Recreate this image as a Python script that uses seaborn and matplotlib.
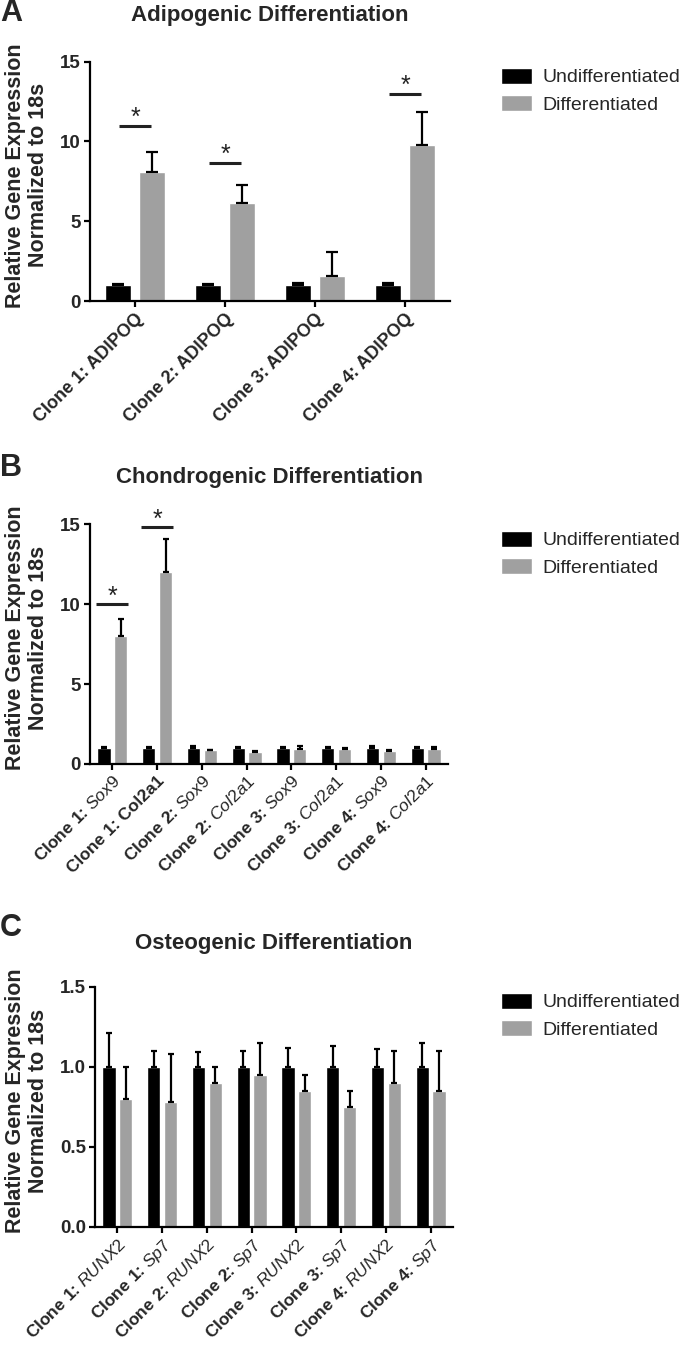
import matplotlib
matplotlib.use("Agg")
import matplotlib.pyplot as plt
import seaborn as sns
import pandas as pd
import numpy as np

# ---------------- data ----------------
a_categories = ["C1 ADIPOQ", "C2 ADIPOQ", "C3 ADIPOQ", "C4 ADIPOQ"]
a_ticklabels = ["Clone 1: ADIPOQ", "Clone 2: ADIPOQ", "Clone 3: ADIPOQ", "Clone 4: ADIPOQ"]
a_undiff = [1.0, 1.0, 1.0, 1.0]
a_undiff_err = [0.08, 0.07, 0.15, 0.10]
a_diff = [8.1, 6.15, 1.55, 9.75]
a_diff_err = [1.25, 1.1, 1.5, 2.1]
a_sig_idx = [0, 1, 3]
a_sig_y = [11.0, 8.65, 13.0]

b_categories = ["C1 Sox9", "C1 Col2a1", "C2 Sox9", "C2 Col2a1",
                "C3 Sox9", "C3 Col2a1", "C4 Sox9", "C4 Col2a1"]
b_ticklabels = ["Clone 1: $\\mathit{Sox9}$", "Clone 1: Col2a1",
                "Clone 2: $\\mathit{Sox9}$", "Clone 2: $\\mathit{Col2a1}$",
                "Clone 3: $\\mathit{Sox9}$", "Clone 3: $\\mathit{Col2a1}$",
                "Clone 4: $\\mathit{Sox9}$", "Clone 4: $\\mathit{Col2a1}$"]
b_undiff = [1.0, 1.0, 1.0, 1.0, 1.0, 1.0, 1.0, 1.0]
b_undiff_err = [0.05, 0.08, 0.15, 0.05, 0.07, 0.08, 0.10, 0.07]
b_diff = [8.0, 12.0, 0.85, 0.75, 0.95, 0.95, 0.80, 0.95]
b_diff_err = [1.05, 2.1, 0.05, 0.05, 0.15, 0.08, 0.05, 0.12]
b_sig_idx = [0, 1]
b_sig_y = [10.0, 14.8]

c_categories = ["C1 RUNX2", "C1 Sp7", "C2 RUNX2", "C2 Sp7",
                "C3 RUNX2", "C3 Sp7", "C4 RUNX2", "C4 Sp7"]
c_ticklabels = ["Clone 1: $\\mathit{RUNX2}$", "Clone 1: $\\mathit{Sp7}$",
                "Clone 2: $\\mathit{RUNX2}$", "Clone 2: $\\mathit{Sp7}$",
                "Clone 3: $\\mathit{RUNX2}$", "Clone 3: $\\mathit{Sp7}$",
                "Clone 4: $\\mathit{RUNX2}$", "Clone 4: $\\mathit{Sp7}$"]
c_undiff = [1.0, 1.0, 1.0, 1.0, 1.0, 1.0, 1.0, 1.0]
c_undiff_err = [0.21, 0.10, 0.09, 0.10, 0.12, 0.13, 0.11, 0.15]
c_diff = [0.80, 0.78, 0.90, 0.95, 0.85, 0.75, 0.90, 0.85]
c_diff_err = [0.20, 0.30, 0.10, 0.20, 0.10, 0.10, 0.20, 0.25]

conditions = ["Undifferentiated", "Differentiated"]
palette = {"Undifferentiated": "#000000", "Differentiated": "#a0a0a0"}

# ---------------- style ----------------
sns.set_theme(style="ticks")
plt.rcParams["font.family"] = ["Liberation Sans", "DejaVu Sans"]
plt.rcParams["mathtext.fontset"] = "custom"
plt.rcParams["mathtext.it"] = "Liberation Sans:italic"
plt.rcParams["mathtext.rm"] = "Liberation Sans"
plt.rcParams["mathtext.bf"] = "Liberation Sans:bold"

W, H = 685, 1345
fig = plt.figure(figsize=(W / 100, H / 100), dpi=100)


def fx(px):
    return px / W


def fy(py):
    return 1 - py / H


def panel(rect_px, cats, ticklabels, undiff, undiff_err, diff, diff_err,
          ylim, yticks, yfmt, title, title_y, letter, letter_y, leg_y,
          capsize, sig_idx=None, sig_y=None, sig_half=0.18, tick_fs=12):
    left, top, right, bottom = rect_px
    ax = fig.add_axes([fx(left), fy(bottom), fx(right - left), (bottom - top) / H])
    n = len(cats)
    df = pd.DataFrame({
        "cat": cats * 2,
        "cond": [conditions[0]] * n + [conditions[1]] * n,
        "val": undiff + diff,
    })
    sns.barplot(data=df, x="cat", y="val", hue="cond", order=cats,
                hue_order=conditions, palette=palette, width=0.75, gap=0.22,
                errorbar=None, ax=ax, saturation=1, legend=True)
    for cont, errs in zip(ax.containers, [undiff_err, diff_err]):
        xs = [b.get_x() + b.get_width() / 2 for b in cont]
        hs = [b.get_height() for b in cont]
        ax.errorbar(xs, hs, yerr=[np.zeros(len(errs)), errs], fmt="none",
                    ecolor="black", elinewidth=1.6, capsize=capsize,
                    capthick=1.6, zorder=1)
    ax.set_ylim(*ylim)
    ax.set_xlim(-0.5, n - 0.5)
    ax.set_yticks(yticks)
    ax.set_yticklabels([yfmt.format(t) for t in yticks], fontsize=13.5,
                       fontweight="bold")
    ax.set_xticks(range(n))
    ax.set_xticklabels(ticklabels, rotation=45, ha="right",
                       rotation_mode="anchor", fontsize=tick_fs,
                       fontweight="bold")
    ax.set_xlabel("")
    ax.set_ylabel("")
    for s in ["top", "right"]:
        ax.spines[s].set_visible(False)
    for s in ["left", "bottom"]:
        ax.spines[s].set_linewidth(1.6)
        ax.spines[s].set_color("black")
    ax.tick_params(axis="both", direction="out", length=4.5, width=1.6,
                   color="black", pad=2)
    # significance
    if sig_idx:
        for i, yv in zip(sig_idx, sig_y):
            ax.plot([i - sig_half, i + sig_half], [yv, yv], color="#222222",
                    lw=2.2, solid_capstyle="butt")
            ax.annotate("*", xy=(i, yv), xytext=(0, -3),
                        textcoords="offset points", ha="center", va="bottom",
                        fontsize=18, color="#222222")
    # legend
    handles, labels = ax.get_legend_handles_labels()
    ax.get_legend().remove()
    fig.legend(handles, labels, loc="upper left",
               bbox_to_anchor=(fx(501), fy(leg_y)), frameon=False,
               fontsize=14, handlelength=1.6, handleheight=0.85,
               handletextpad=0.55, labelspacing=0.45, borderpad=0,
               borderaxespad=0)
    # title, letter, y label
    fig.text(fx((left + right) / 2), fy(title_y), title, ha="center",
             va="center", fontsize=16, fontweight="bold")
    fig.text(fx(0), fy(letter_y), letter, ha="left", va="center",
             fontsize=22, fontweight="bold")
    fig.text(fx(27), fy((top + bottom) / 2 - 6),
             "Relative Gene Expression\nNormalized to 18s", rotation=90,
             ha="center", va="center", multialignment="center",
             fontsize=15.5, fontweight="bold", linespacing=1.15)
    return ax


panel((90, 61.7, 450, 301), a_categories, a_ticklabels, a_undiff,
      a_undiff_err, a_diff, a_diff_err, (0, 15), [0, 5, 10, 15], "{:g}",
      "Adipogenic Differentiation", 16, "A", 13, 68, capsize=4,
      sig_idx=a_sig_idx, sig_y=a_sig_y, sig_half=0.18, tick_fs=13)

panel((90, 524.3, 448, 764), b_categories, b_ticklabels, b_undiff,
      b_undiff_err, b_diff, b_diff_err, (0, 15), [0, 5, 10, 15], "{:g}",
      "Chondrogenic Differentiation", 477, "B", 468, 531, capsize=2.2,
      sig_idx=b_sig_idx, sig_y=b_sig_y, sig_half=0.36, tick_fs=12.5)

panel((95, 986.7, 453, 1226.7), c_categories, c_ticklabels, c_undiff,
      c_undiff_err, c_diff, c_diff_err, (0, 1.5), [0.0, 0.5, 1.0, 1.5],
      "{:.1f}", "Osteogenic Differentiation", 943, "C", 928, 993,
      capsize=2.2, tick_fs=12.5)

fig.savefig("out.png", dpi=100)
